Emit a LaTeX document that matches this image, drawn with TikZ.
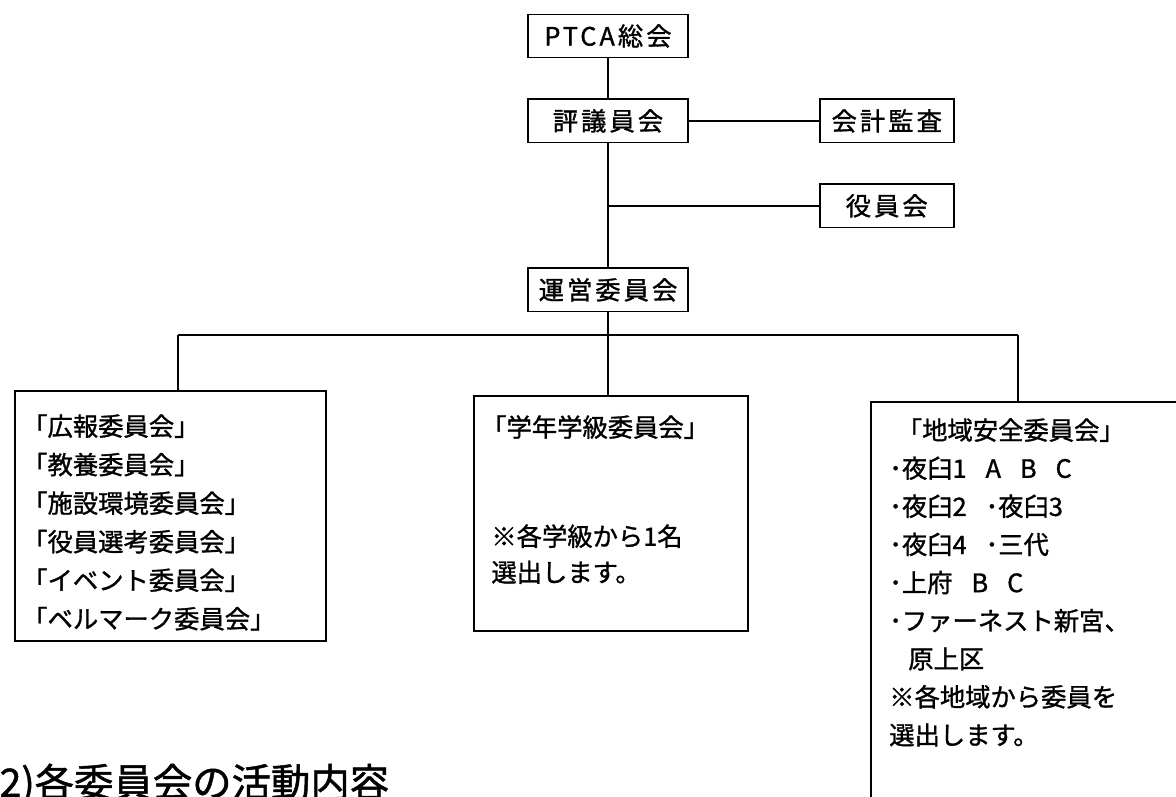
\documentclass[tikz,border=0pt]{standalone}
\usepackage{fontspec}
\setmainfont{Noto Sans CJK JP}[FakeBold=1.2]
\newfontfamily\jpwide[LetterSpace=12,FakeBold=1.2]{Noto Sans CJK JP}
\usepackage{tikz}
\usetikzlibrary{positioning,calc}
\newcommand{\sepgap}{\hspace{0.75em}}
\tikzset{
  topBox/.style={
    rectangle,
    draw=black,
    line width=1.2pt,
    minimum height=1.08cm,
    inner sep=0pt,
    font=\jpwide\fontsize{18}{20}\selectfont
  },
  groupBox/.style={
    rectangle,
    draw=black,
    line width=1.2pt,
    inner sep=0pt,
    anchor=north west
  },
  groupText/.style={
    anchor=north west,
    inner sep=0pt,
    align=left,
    font=\fontsize{18}{27.4}\selectfont
  },
  linkLine/.style={
    line width=1.2pt
  }
}

\begin{document}
\begin{tikzpicture}[x=0.025cm,y=-0.025cm]
  \useasboundingbox (0,0) rectangle (1176,796);

  \node[topBox, minimum width=4.0cm] (ptca) at (608,36) {PTCA総会};
  \node[topBox, minimum width=4.0cm, below=1.0cm of ptca] (hyogi) {評議員会};
  \node[topBox, minimum width=3.35cm, right=3.25cm of hyogi] (kaikei) {会計監査};
  \node[topBox, minimum width=3.35cm, below=1.0cm of kaikei] (yakuin) {役員会};
  \node[topBox, minimum width=4.0cm, below=3.1cm of hyogi] (unei) {運営委員会};

  \draw[linkLine] (ptca) -- (hyogi);
  \draw[linkLine] (hyogi) -- (kaikei);
  \draw[linkLine] (hyogi) -- (unei);
  \draw[linkLine] (yakuin.west) -- (yakuin.west -| hyogi.south);

  % committee boxes
  \node[groupBox, minimum width=7.775cm, minimum height=6.25cm] (koho) at (14,390) {};
  \node[groupBox, minimum width=6.85cm, minimum height=5.875cm] (gakunen) at (473,395) {};
  \node[groupBox, minimum width=8.5cm, minimum height=10.5cm] (chiiki) at (870,401) {};

  \node[groupText] (kohoText) at (22,414) {「広報委員会」\\「教養委員会」\\「施設環境委員会」\\「役員選考委員会」\\「イベント委員会」\\「ベルマーク委員会」};
  \node[groupText, font=\fontsize{18}{25.6}\selectfont] (gakunenText) at (481,415) {「学年学級委員会」\\[52pt]\hspace{0.4em}※各学級から1名\\\hspace{0.4em}選出します。};
  \node[groupText, font=\fontsize{18}{27.1}\selectfont] (chiikiText) at (889,418) {\hspace{0.3em}「地域安全委員会」\\･夜臼1\sepgap A\sepgap B\sepgap C\\･夜臼2\sepgap ･夜臼3\\･夜臼4\sepgap ･三代\\･上府\sepgap B\sepgap C\\･ファーネスト新宮、\\\hspace{0.75em}原上区\\※各地域から委員を\\選出します。};

  % bus to the committees
  \coordinate (busLeft) at (178,335);
  \coordinate (busRight) at (1018,335);
  \coordinate (busMid) at (unei.south |- busLeft);
  \draw[linkLine] (unei) -- (busMid);
  \draw[linkLine] (busLeft) -- (busRight);
  \draw[linkLine] (busLeft) -- (busLeft |- koho.north);
  \draw[linkLine] (busMid) -- (busMid |- gakunen.north);
  \draw[linkLine] (busRight) -- (busRight |- chiiki.north);

  \node[anchor=base west, inner sep=0pt, font=\fontsize{28}{30}\selectfont] (sectionTitle) at (-14,797) {(2)各委員会の活動内容};
\end{tikzpicture}
\end{document}
